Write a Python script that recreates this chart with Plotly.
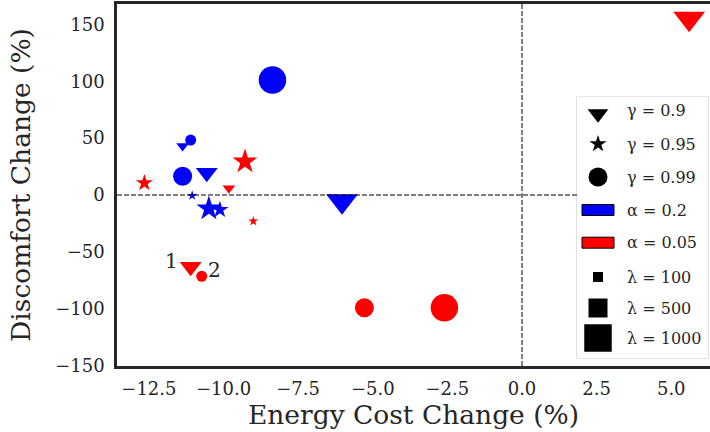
import plotly.graph_objects as go

# ---------------- data ----------------
energy_change = [-11.37, -10.56, -6.03,   -9.82, -11.10, 5.60,
                 -11.05, -10.12, -10.49,  -9.00, -12.65, -9.28,
                 -11.10, -11.37, -8.36,   -10.73, -5.28, -2.60]
discomfort_change = [43.0, 19.5, -5.3,    6.0, -63.0, 155.0,
                     -0.5, -13.0, -12.0,  -23.0, 10.5, 29.3,
                     48.3, 16.4, 101.0,   -71.4, -99.0, -99.0]
gamma = [0.9] * 6 + [0.95] * 6 + [0.99] * 6
alpha = ([0.2] * 3 + [0.05] * 3) * 3
lam = [100, 500, 1000] * 6

gamma_levels = [0.9, 0.95, 0.99]
alpha_levels = [0.2, 0.05]
lambda_levels = [100, 500, 1000]

point_labels = ["1", "2"]
label_x = [-11.73, -10.31]
label_y = [-58.0, -66.0]

# ---------------- style ----------------
FONT = "DejaVu Serif"
TXT = "#262626"
symbol_of = {0.9: "triangle-down", 0.95: "star", 0.99: "circle"}
color_of = {0.2: "#0000ff", 0.05: "#ff0000"}
base_size = {100: 11, 500: 19, 1000: 27.5}
sym_scale = {"triangle-down": 1.0, "star": 0.68, "circle": 1.0}

W, H = 710, 432
L, R, T, B = 117, 0, 4, 66
pw, ph = W - L - R, H - T - B
bx0, bx1, by0, by1 = 577, 708, 97, 358
dom_x = [(bx0 - L) / pw, (bx1 - L) / pw]
dom_y = [(H - B - by1) / ph, (H - B - by0) / ph]

fig = go.Figure()

for g in gamma_levels:
    for a in alpha_levels:
        idx = [i for i in range(len(gamma)) if gamma[i] == g and alpha[i] == a]
        sym = symbol_of[g]
        fig.add_trace(go.Scatter(
            x=[energy_change[i] for i in idx],
            y=[discomfort_change[i] for i in idx],
            mode="markers",
            marker=dict(symbol=sym, color=color_of[a], opacity=1,
                        size=[base_size[lam[i]] * sym_scale[sym] for i in idx],
                        line=dict(width=0)),
            showlegend=False, hoverinfo="skip", cliponaxis=True,
        ))

# point labels
for t, x, y in zip(point_labels, label_x, label_y):
    fig.add_annotation(x=x, y=y, text=t, showarrow=False,
                       font=dict(family=FONT, size=20, color=TXT))

# reference dashed lines
fig.add_shape(type="line", xref="x", yref="paper", x0=0, x1=0, y0=0, y1=1,
              line=dict(color="black", width=1, dash="5px,2px"), layer="above")
fig.add_shape(type="line", xref="paper", yref="y", x0=0, x1=dom_x[0], y0=0, y1=0,
              line=dict(color="black", width=1, dash="5px,2px"), layer="above")

# ---------------- manual legend (overlay axes in pixel units) ----------------
fig.add_shape(type="rect", xref="paper", yref="paper",
              x0=dom_x[0], x1=dom_x[1], y0=dom_y[0], y1=dom_y[1],
              line=dict(color="#cccccc", width=1.2), fillcolor="white",
              layer="below")

icon_x = 21
text_x = 48
row_y = [13.7, 47, 80, 113, 145.7, 180, 211, 241]
labels = ([f"γ = {g}" for g in gamma_levels]
          + [f"α = {a}" for a in alpha_levels]
          + [f"λ = {l}" for l in lambda_levels])

# gamma icons
for k, g in enumerate(gamma_levels):
    sym = symbol_of[g]
    fig.add_trace(go.Scatter(
        x=[icon_x], y=[row_y[k] + (3 if sym == "triangle-down" else 0)],
        xaxis="x2", yaxis="y2", mode="markers",
        marker=dict(symbol=sym, color="black", opacity=1,
                    size=19 * (0.95 if sym == "triangle-down" else sym_scale[sym]),
                    line=dict(width=0)),
        showlegend=False, hoverinfo="skip"))
# alpha icons
for k, a in enumerate(alpha_levels):
    yc = row_y[3 + k]
    fig.add_shape(type="rect", xref="x2", yref="y2",
                  x0=icon_x - 16, x1=icon_x + 16, y0=yc - 5.5, y1=yc + 5.5,
                  fillcolor=color_of[a], line=dict(color="black", width=1),
                  layer="above")
# lambda icons
for k, l in enumerate(lambda_levels):
    fig.add_trace(go.Scatter(
        x=[icon_x], y=[row_y[5 + k]], xaxis="x2", yaxis="y2", mode="markers",
        marker=dict(symbol="square", color="black", opacity=1,
                    size={100: 10, 500: 19, 1000: 27.5}[l], line=dict(width=0)),
        showlegend=False, hoverinfo="skip"))
for k, txt in enumerate(labels):
    fig.add_annotation(x=text_x, y=row_y[k], xref="x2", yref="y2", text=txt,
                       showarrow=False, xanchor="left", yanchor="middle",
                       font=dict(family=FONT, size=16, color=TXT))

x_range = [(L - 522) / 29.85, (W - 522) / 29.85]
y_range = [(195 - (H - B)) / 1.138, (195 - T) / 1.138]

fig.update_layout(
    width=W, height=H,
    margin=dict(l=L, r=R, t=T, b=B, pad=0),
    paper_bgcolor="white", plot_bgcolor="white",
    font=dict(family=FONT, color=TXT),
    showlegend=False,
    xaxis=dict(range=x_range, showgrid=False, zeroline=False,
               showline=True, linecolor=TXT, linewidth=2.5, mirror=True,
               ticks="outside", ticklen=5, tickcolor="rgba(0,0,0,0)",
               tick0=0, dtick=2.5, tickformat=".1f",
               tickfont=dict(family=FONT, size=18, color=TXT),
               title=dict(text="Energy Cost Change (%)", standoff=6,
                          font=dict(family=FONT, size=26.5, color=TXT))),
    yaxis=dict(range=y_range, showgrid=False, zeroline=False,
               showline=True, linecolor=TXT, linewidth=2.5, mirror=False,
               ticks="outside", ticklen=6, tickcolor="rgba(0,0,0,0)",
               tick0=0, dtick=50,
               tickfont=dict(family=FONT, size=18, color=TXT),
               title=dict(text="Discomfort Change (%)", standoff=17,
                          font=dict(family=FONT, size=26.5, color=TXT))),
    xaxis2=dict(domain=dom_x, range=[0, bx1 - bx0], visible=False,
                fixedrange=True, anchor="y2"),
    yaxis2=dict(domain=dom_y, range=[by1 - by0, 0], visible=False,
                fixedrange=True, anchor="x2"),
)

fig.write_html("out.html")
